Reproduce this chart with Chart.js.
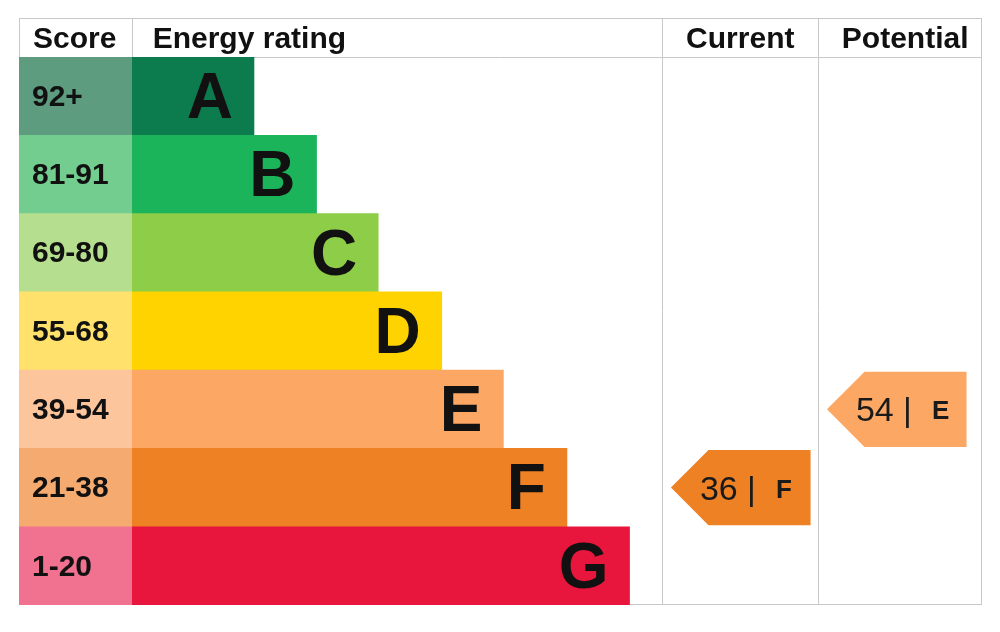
<!DOCTYPE html>
<html>
<head>
<meta charset="utf-8">
<script src="https://cdn.jsdelivr.net/npm/chart.js@4"></script>
<style>
  html, body { margin: 0; padding: 0; background: #ffffff; }
  #wrap { width: 1000px; height: 632px; }
</style>
</head>
<body>
<div id="wrap"><canvas id="c" width="1000" height="632"></canvas></div>
<script>
// ---- Data ----
const ratings      = ['A', 'B', 'C', 'D', 'E', 'F', 'G'];
const scoreRanges  = ['92+', '81-91', '69-80', '55-68', '39-54', '21-38', '1-20'];
// widths in % of the table width
const scoreCellWidth = [11.7, 11.7, 11.7, 11.7, 11.7, 11.7, 11.7];
const barLengths     = [12.7, 19.2, 25.6, 32.2, 38.6, 45.2, 51.7];
const headerLabels   = ['Score', 'Energy rating', 'Current', 'Potential'];
const columnStarts   = [66.8, 83.0];          // Current, Potential columns
const currentScore   = 36;
const currentRating  = 'F';
const potentialScore = 54;
const potentialRating = 'E';

// ---- Styles ----
const barColors  = ['#0c7c4f', '#1cb45a', '#8dcd47', '#fed300', '#fca864', '#ee8124', '#e8163c'];
const cellColors = ['#5e9c7f', '#72cd8f', '#b5df8e', '#ffe16b', '#fdc59b', '#f5aa70', '#f07190'];
const lineColor = '#c8c8c8';
const headerH = 39;
const FONT = '"Liberation Sans", Arial, Helvetica, sans-serif';

const decor = {
  id: 'epcDecor',
  beforeDatasetsDraw(chart) {
    const { ctx, chartArea: a, scales: { x } } = chart;
    const top = a.top - headerH;
    ctx.save();
    ctx.strokeStyle = lineColor;
    ctx.lineWidth = 1;
    const L = Math.round(a.left) + 0.5, R = Math.round(a.right) - 0.5;
    const T = Math.round(top) + 0.5, B = Math.round(a.bottom) - 0.5;
    ctx.strokeRect(L, T, R - L, B - T);
    ctx.beginPath();
    ctx.moveTo(L, Math.round(a.top) + 0.5); ctx.lineTo(R, Math.round(a.top) + 0.5);
    const xs = Math.round(x.getPixelForValue(scoreCellWidth[0])) + 0.5;
    ctx.moveTo(xs, T); ctx.lineTo(xs, a.top);
    columnStarts.forEach(v => {
      const px = Math.round(x.getPixelForValue(v)) + 0.5;
      ctx.moveTo(px, T); ctx.lineTo(px, B);
    });
    ctx.stroke();
    ctx.restore();
  },
  afterDatasetsDraw(chart) {
    const { ctx, chartArea: a, scales: { x, y } } = chart;
    const top = a.top - headerH;
    ctx.save();
    ctx.fillStyle = '#111111';
    // header
    ctx.font = 'bold 30px ' + FONT;
    ctx.textBaseline = 'alphabetic';
    const hb = top + 30;
    ctx.textAlign = 'left';
    ctx.fillText(headerLabels[0], a.left + 14, hb);
    ctx.fillText(headerLabels[1], x.getPixelForValue(scoreCellWidth[0]) + 21, hb);
    ctx.textAlign = 'center';
    const c1 = (x.getPixelForValue(columnStarts[0]) + x.getPixelForValue(columnStarts[1])) / 2;
    const c2 = (x.getPixelForValue(columnStarts[1]) + x.getPixelForValue(100)) / 2;
    ctx.fillText(headerLabels[2], c1, hb);
    ctx.fillText(headerLabels[3], c2 + 5, hb);

    // score labels and letters
    const barMeta = chart.getDatasetMeta(1);
    ratings.forEach((r, i) => {
      const yc = y.getPixelForValue(i);
      ctx.fillStyle = '#111111';
      ctx.textAlign = 'left';
      ctx.font = 'bold 30px ' + FONT;
      ctx.fillText(scoreRanges[i], a.left + 13, yc + 0.358 * 30 - 1);
      const el = barMeta.data[i];
      ctx.font = 'bold 64px ' + FONT;
      ctx.textAlign = 'right';
      ctx.fillText(r, el.x - 21, yc + 0.358 * 64 - 1);
    });

    // arrows
    const drawArrow = (colStart, rating, score) => {
      const idx = ratings.indexOf(rating);
      const yc = y.getPixelForValue(idx);
      const half = (y.getPixelForValue(1) - y.getPixelForValue(0)) / 2;
      const y0 = yc - half + 1.5, y1 = yc + half - 1.5;
      const tip = x.getPixelForValue(colStart + 0.9);
      const neck = x.getPixelForValue(colStart + 0.9 + 3.9);
      const end = x.getPixelForValue(colStart + 0.9 + 14.5);
      ctx.fillStyle = barColors[idx];
      ctx.beginPath();
      ctx.moveTo(tip, yc);
      ctx.lineTo(neck, y0);
      ctx.lineTo(end, y0);
      ctx.lineTo(end, y1);
      ctx.lineTo(neck, y1);
      ctx.closePath();
      ctx.fill();
      ctx.fillStyle = '#1a1a1a';
      ctx.textAlign = 'left';
      ctx.font = '34px ' + FONT;
      ctx.fillText(String(score), tip + 29, yc + 12);
      ctx.fillText('|', tip + 76, yc + 12);
      ctx.font = 'bold 26px ' + FONT;
      ctx.fillText(rating, tip + 105, yc + 10);
    };
    drawArrow(columnStarts[0], currentRating, currentScore);
    drawArrow(columnStarts[1], potentialRating, potentialScore);
    ctx.restore();
  }
};

new Chart(document.getElementById('c'), {
  type: 'bar',
  data: {
    labels: ratings,
    datasets: [
      { label: 'Score', data: scoreCellWidth, backgroundColor: cellColors, borderWidth: 0,
        barPercentage: 1, categoryPercentage: 1 },
      { label: 'Energy rating', data: barLengths, backgroundColor: barColors, borderWidth: 0,
        barPercentage: 1, categoryPercentage: 1 }
    ]
  },
  options: {
    indexAxis: 'y',
    responsive: false,
    animation: false,
    devicePixelRatio: 1,
    layout: { padding: { left: 19, right: 18, top: 57, bottom: 27 } },
    scales: {
      x: { type: 'linear', min: 0, max: 100, stacked: true, display: false },
      y: { type: 'category', stacked: true, display: false }
    },
    plugins: { legend: { display: false }, tooltip: { enabled: false } }
  },
  plugins: [decor]
});
</script>
</body>
</html>
